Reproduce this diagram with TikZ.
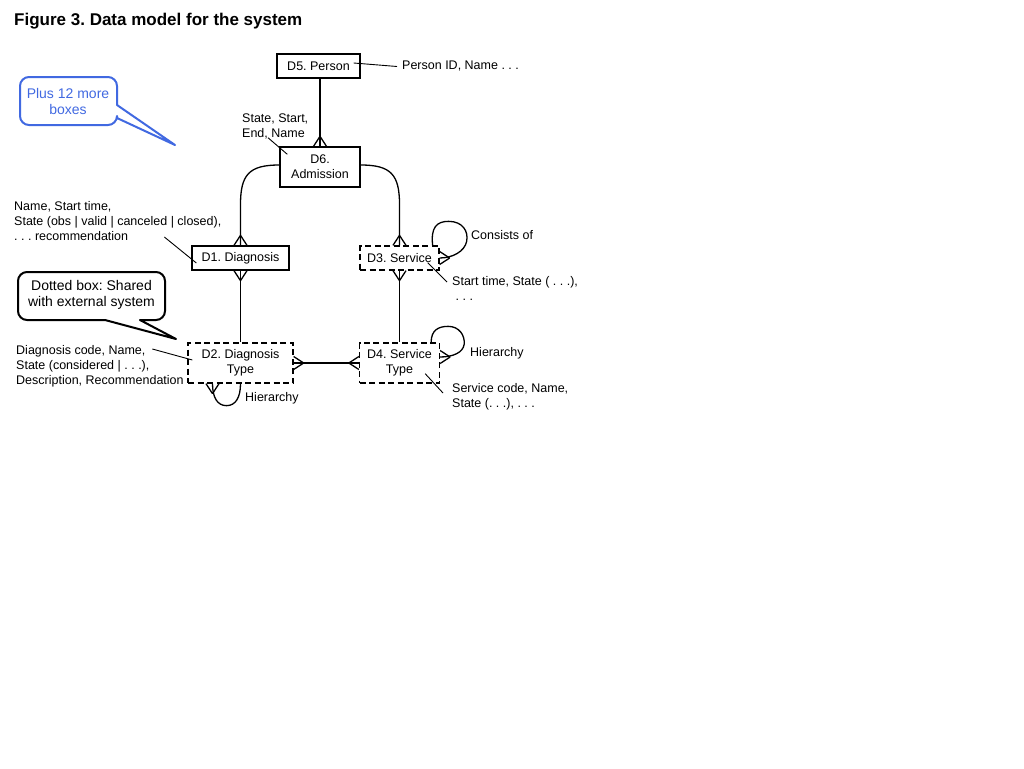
\documentclass[tikz,border=0pt]{standalone}
\usepackage{fontspec}
\setmainfont{Liberation Sans}
\frenchspacing
\usetikzlibrary{calc, decorations.markings}
\definecolor{noteblue}{RGB}{65,105,225}

\tikzset{many end/.style={postaction={decorate, decoration={markings,
            mark=at position 1 with {\draw[line width=1.3pt] (-10pt,0) -- (0,6.5pt) (-10pt,0) -- (0,-6.5pt);}}}},
    many start/.style={postaction={decorate, decoration={markings,
            mark=at position 0 with {\draw[line width=1.3pt] (10pt,0) -- (0,6.5pt) (10pt,0) -- (0,-6.5pt);}}}}}

\begin{document}
\begin{tikzpicture}[x=1pt, y=-1pt,
        entity/.style={draw, line width=1.3pt, inner sep=2pt, align=center, font=\fontsize{12.5}{15}\selectfont},
        shared/.style={entity, dash pattern=on 6pt off 3.5pt},
        note/.style={inner sep=0pt, align=left, font=\fontsize{12.5}{15}\selectfont},
        link/.style={line width=1.3pt},
        pin/.style={line width=0.9pt},
        callout/.style={line width=2pt, line join=round}]
        \useasboundingbox (0,0) rectangle (1024,768);
        \node (title) [anchor=base west, inner sep=0pt, font=\fontsize{17}{20}\selectfont\bfseries] at (14,26) {Figure 3. Data model for the system};

        % entities
        \node (d5) [entity, minimum width=83, minimum height=24] at (318.5,66) {D5. Person};
        \node (d6) [entity, minimum width=80, minimum height=40] at (320,167) {D6.\\Admission};
        \node (d1) [entity, minimum width=97, minimum height=24] at (240.5,258) {D1. Diagnosis};
        \node (d3) [shared, minimum width=79, minimum height=24] at (399.5,258) {D3. Service};
        \node (d2) [shared, minimum width=105, minimum height=40] at (240.5,363) {D2. Diagnosis\\Type};
        \node (d4) [shared, minimum width=80, minimum height=40] at (399.5,363) {D4. Service\\Type};

        % attribute notes
        \node (pid) [note, anchor=base west] at (402,70) {Person ID, Name . . .};
        \node (n6) [note, anchor=north west] at (242,114) {State, Start,\\End, Name};
        \node (n1) [note, anchor=north west] at (14,201) {Name, Start time,\\State (obs | valid | canceled | closed),\\. . . recommendation};
        \node (consists) [note, anchor=base west] at (471,239) {Consists of};
        \node (n3) [note, anchor=north west] at (452,276) {Start time, State ( . . .),\\\ . . .};
        \node (hier4) [note, anchor=base west] at (470,356) {Hierarchy};
        \node (n4) [note, anchor=north west] at (452,383) {Service code, Name,\\State (. . .), . . .};
        \node (hier2) [note, anchor=base west] at (245,401) {Hierarchy};
        \node (n2) [note, anchor=north west] at (16,345) {Diagnosis code, Name,\\State (considered | . . .),\\Description, Recommendation};

        % relations
        \draw[link, many end] (d6.north |- d5.south) -- (d6.north);
        \draw[link, many end] ([yshift=2pt]d6.west) .. controls +(-30,0) and +(0,-30) .. ($(d1.north)+(0,-41)$) -- (d1.north);
        \draw[link, many end] ([yshift=2pt]d6.east) .. controls +(30,0) and +(0,-30) .. ($(d3.north)+(0,-41)$) -- (d3.north);
        \draw[link, many start] (d1.south) -- (d2.north);
        \draw[link, many start] (d3.south) -- (d4.north);
        \draw[link, many start, many end] (d2.east) -- (d4.west);
        \draw[link, many end] ([xshift=-7pt]d3.north east) .. controls +(-2,-18) and +(-12,0) .. ++(16,-24)
            .. controls +(14,0) and +(2,-10) .. ++(18,20) .. controls +(-2,10) and +(13,0) .. (d3.east);
        \draw[link, many end] ([xshift=-9pt]d4.north east) .. controls +(0,-12) and +(-10,0) .. ++(17,-16)
            .. controls +(11,0) and +(1,-9) .. ++(16,18) .. controls +(-1,8) and +(13,0) .. ([yshift=6pt]d4.east);
        \draw[link, many end] (d2.south) .. controls +(0,14) and +(9,0) .. ++(-14,22)
            .. controls +(-9,0) and +(0,14) .. ([xshift=-28pt]d2.south);

        % note pins
        \draw[pin] ([xshift=-7pt,yshift=3pt]d5.east) -- ([xshift=-5pt]pid.west);
        \draw[pin] ($(n6.south west)+(26,-2)$) -- ($(d6.north west)+(8,8)$);
        \draw[pin] ($(d1.west)+(-27,-21)$) -- ($(d1.west)+(5,5)$);
        \draw[pin] ($(d3.south east)+(-12,-8)$) -- ($(n3.north west)+(-5,6)$);
        \draw[pin] ($(d4.south east)+(-15,-10)$) -- ($(n4.north west)+(-9,10)$);
        \draw[pin] ($(d2.west)+(-35,-14)$) -- ($(d2.west)+(5,-3)$);

        % callouts
        \node (more) [align=center, text=noteblue, font=\fontsize{14}{16}\selectfont] at (68,101) {Plus 12 more\\boxes};
        \draw[callout, noteblue] (175,145) -- (117,105) [rounded corners=9pt] -- (117,77) -- (20,77) -- (20,125) -- (117,125) [sharp corners] -- (117,118) -- cycle;
        \node (dotted) [align=center, font=\fontsize{14}{16}\selectfont] at (91.5,295) {Dotted box: Shared\\with external system};
        \draw[callout] (176,339) -- (140,320) [rounded corners=9pt] -- (165,320) -- (165,272) -- (18,272) -- (18,320) [sharp corners] -- (105,320) -- cycle;
\end{tikzpicture}
\end{document}
